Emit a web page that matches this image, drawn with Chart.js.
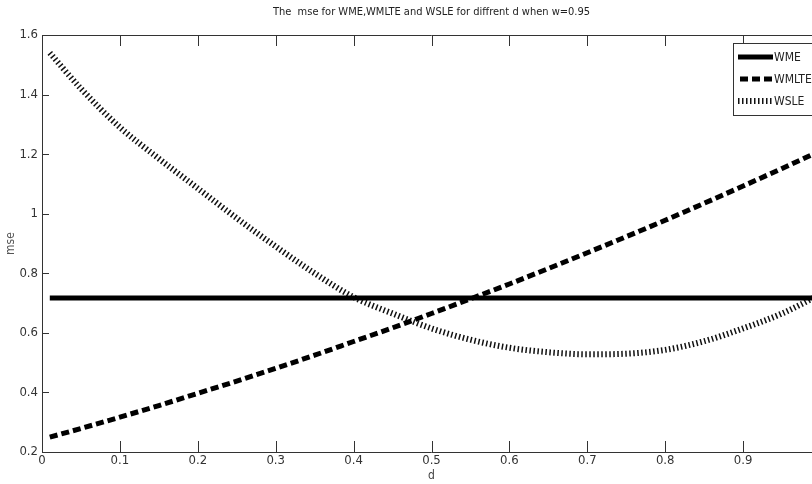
<!DOCTYPE html>
<html><head><meta charset="utf-8">
<script src="https://cdn.jsdelivr.net/npm/chart.js@4"></script>
<style>
html,body{margin:0;padding:0;overflow:hidden;background:#fff;width:812px;height:484px}
#wrap{position:absolute;left:0;top:0;width:830px;height:484px}
</style></head><body>
<div id="wrap"><canvas id="c" width="830" height="484"></canvas></div>
<script>
const dValues = [0.01,0.05,0.1,0.15,0.2,0.25,0.3,0.35,0.4,0.45,0.5,0.55,0.6,0.65,0.7,0.75,0.8,0.85,0.9,0.95,1.0];
const wmeValues = [0.717,0.717,0.717,0.717,0.717,0.717,0.717,0.717,0.717,0.717,0.717,0.717,0.717,0.717,0.717,0.717,0.717,0.717,0.717,0.717,0.717];
const wmlteValues = [0.25,0.279,0.317,0.356,0.397,0.438,0.481,0.525,0.571,0.617,0.665,0.714,0.764,0.816,0.869,0.923,0.978,1.035,1.093,1.152,1.212];
const wsleValues = [1.54,1.42,1.29,1.185,1.085,0.985,0.89,0.80,0.72,0.665,0.615,0.577,0.55,0.535,0.528,0.53,0.543,0.572,0.615,0.665,0.73];
const xTickLabels = ['0','0.1','0.2','0.3','0.4','0.5','0.6','0.7','0.8','0.9','1'];
const yTickLabels = ['0.2','0.4','0.6','0.8','1','1.2','1.4','1.6'];
const seriesNames = ['WME','WMLTE','WSLE'];
const chartTitle = 'The  mse for WME,WMLTE and WSLE for diffrent d when w=0.95';
const xTitle = 'd';
const yTitle = 'mse';

const FONT = "'Liberation Sans Narrow','DejaVu Sans Condensed','Liberation Sans',Arial,sans-serif";
const pts = arr => dValues.map((d,i)=>({x:d,y:arr[i]}));
const xTickValues = xTickLabels.map(Number);
const yTickValues = yTickLabels.map(Number);

const styles = [
  {borderColor:'#000',borderWidth:5,borderDash:[]},
  {borderColor:'#000',borderWidth:5,borderDash:[8,4]},
  {borderColor:'#111',borderWidth:6,borderDash:[1.5,2.5]}
];

const framePlugin = {
  id:'frame',
  afterDraw(chart){
    const c = chart.ctx, a = chart.chartArea;
    const xs = chart.scales.x, ys = chart.scales.y;
    c.save();
    c.strokeStyle = '#333'; c.lineWidth = 1;
    c.beginPath();
    c.moveTo(a.left+0.5,a.top+0.5); c.lineTo(a.left+0.5,a.bottom+0.5);
    c.moveTo(a.left,a.bottom+0.5); c.lineTo(a.right,a.bottom+0.5);
    c.moveTo(a.left,a.top+0.5); c.lineTo(a.right,a.top+0.5);
    c.moveTo(a.right+0.5,a.top); c.lineTo(a.right+0.5,a.bottom);
    xTickValues.forEach(v=>{
      const px = Math.round(xs.getPixelForValue(v))+0.5;
      c.moveTo(px,a.bottom); c.lineTo(px,a.bottom-11);
      c.moveTo(px,a.top); c.lineTo(px,a.top+11);
    });
    yTickValues.forEach(v=>{
      const py = Math.round(ys.getPixelForValue(v))+0.5;
      c.moveTo(a.left,py); c.lineTo(a.left+7,py);
      c.moveTo(a.right,py); c.lineTo(a.right-7,py);
    });
    c.stroke();
    // title
    c.fillStyle = '#222';
    c.font = '11px ' + FONT;
    c.textAlign = 'center'; c.textBaseline = 'middle';
    c.fillText(chartTitle,(a.left+a.right)/2,12);
    // legend
    const bx = 733, by = 43, bw = 93, bh = 72;
    c.fillStyle = '#fff';
    c.fillRect(bx,by,bw,bh);
    c.strokeStyle = '#333';
    c.strokeRect(bx+0.5,by+0.5,bw,bh);
    const rows = [57,79,101];
    seriesNames.forEach((n,i)=>{
      const st = styles[i];
      c.beginPath();
      c.setLineDash(st.borderDash);
      c.lineWidth = st.borderWidth;
      c.strokeStyle = st.borderColor;
      c.lineCap = 'butt';
      c.moveTo(i===1?740:738,rows[i]); c.lineTo(773,rows[i]);
      c.stroke();
      c.setLineDash([]);
      c.fillStyle = '#222';
      c.textAlign = 'left';
      c.font = '12px ' + FONT;
      c.fillText(n,774,rows[i]+1);
    });
    c.restore();
  }
};

new Chart(document.getElementById('c').getContext('2d'),{
  type:'line',
  data:{datasets:[
    Object.assign({label:seriesNames[0],data:pts(wmeValues)},styles[0]),
    Object.assign({label:seriesNames[1],data:pts(wmlteValues)},styles[1]),
    Object.assign({label:seriesNames[2],data:pts(wsleValues)},styles[2])
  ].map(d=>Object.assign(d,{pointRadius:0,fill:false,tension:0.3,borderCapStyle:'butt',cubicInterpolationMode:'monotone'}))},
  options:{
    responsive:false,devicePixelRatio:1,animation:false,
    layout:{padding:{top:35,right:9,left:0,bottom:0}},
    plugins:{legend:{display:false},tooltip:{enabled:false},title:{display:false}},
    scales:{
      x:{type:'linear',min:0,max:1,
        afterFit(s){s.height=32;},
        afterBuildTicks(s){s.ticks=xTickValues.map(v=>({value:v}));},
        grid:{display:false,drawTicks:false},border:{display:false},
        ticks:{autoSkip:false,maxRotation:0,padding:1,color:'#333',font:{family:FONT,size:13},callback:(v,i)=>xTickLabels[i]},
        title:{display:true,text:xTitle,color:'#444',font:{family:FONT,size:12},padding:{top:0,bottom:1}}
      },
      y:{type:'linear',min:0.2,max:1.6,
        afterFit(s){s.width=42;},
        afterBuildTicks(s){s.ticks=yTickValues.map(v=>({value:v}));},
        grid:{display:false,drawTicks:false},border:{display:false},
        ticks:{autoSkip:false,padding:4,color:'#333',font:{family:FONT,size:13},callback:(v,i)=>yTickLabels[i]},
        title:{display:true,text:yTitle,color:'#555',font:{family:FONT,size:12},padding:{top:4,bottom:0}}
      }
    }
  },
  plugins:[framePlugin]
});
</script>
</body></html>
